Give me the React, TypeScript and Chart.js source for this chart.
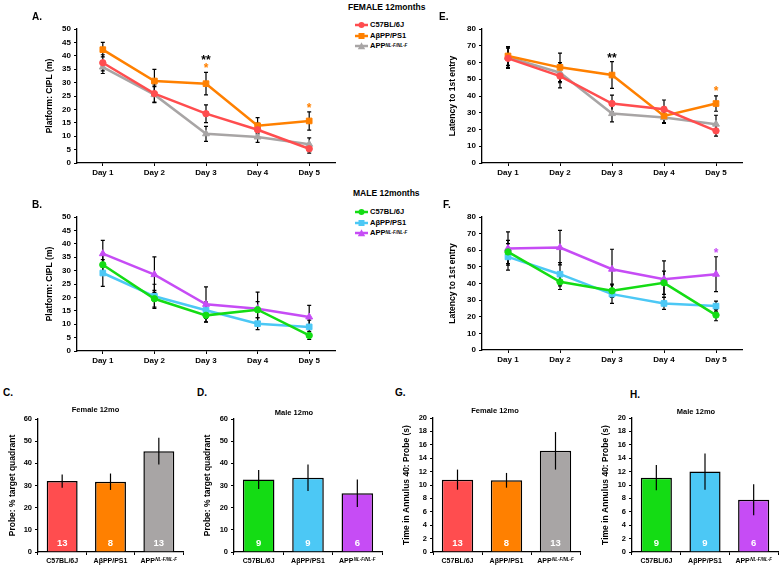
import React, { useEffect, useRef } from 'react';
import { Chart, registerables } from 'chart.js';

Chart.register(...registerables);

const FONT = '"Liberation Sans", Arial, Helvetica, sans-serif';

// ---------------- DATA ----------------
const days = ['Day 1', 'Day 2', 'Day 3', 'Day 4', 'Day 5'];
const genotypes = ['C57BL/6J', 'AβPP/PS1', 'APP^NL-F/NL-F'];

// A. Female CIPL
const femC57Cipl = [37.4, 25.9, 18.4, 12.4, 5.3];
const femC57CiplErr = [3.0, 3.2, 3.3, 2.5, 1.6];
const femAbppCipl = [42.3, 30.6, 29.6, 13.9, 15.7];
const femAbppCiplErr = [2.7, 4.3, 4.2, 3.0, 3.4];
const femAppCipl = [35.8, 25.5, 10.9, 9.7, 7.0];
const femAppCiplErr = [2.4, 3.0, 2.8, 2.0, 2.4];

// E. Female latency
const femC57Lat = [62.5, 51.9, 35.5, 32.1, 19.2];
const femC57LatErr = [6.0, 7.0, 5.0, 5.5, 3.2];
const femAbppLat = [63.9, 57.1, 52.5, 28.1, 35.5];
const femAbppLatErr = [5.6, 8.5, 8.0, 4.0, 4.6];
const femAppLat = [63.1, 53.9, 29.5, 27.1, 23.2];
const femAppLatErr = [6.0, 6.0, 5.0, 3.5, 5.3];

// B. Male CIPL
const maleC57Cipl = [32.2, 19.5, 13.3, 15.4, 5.8];
const maleC57CiplErr = [3.5, 3.1, 2.5, 3.0, 1.5];
const maleAbppCipl = [29.1, 20.4, 15.2, 10.2, 9.0];
const maleAbppCiplErr = [5.0, 4.5, 3.0, 2.2, 2.5];
const maleAppCipl = [36.3, 28.5, 17.4, 15.8, 12.7];
const maleAppCiplErr = [5.0, 6.6, 6.5, 6.2, 4.3];

// F. Male latency
const maleC57Lat = [59.0, 41.0, 35.6, 40.4, 21.0];
const maleC57LatErr = [7.0, 4.6, 4.0, 7.0, 3.4];
const maleAbppLat = [56.0, 45.6, 33.6, 28.0, 26.4];
const maleAbppLatErr = [8.0, 7.0, 5.5, 3.6, 3.0];
const maleAppLat = [61.0, 61.6, 48.6, 42.6, 45.6];
const maleAppLatErr = [10.0, 10.4, 12.0, 11.0, 10.5];

// Significance marks: [day index, y value, text, colour key]
const starsA = [[2, 39.6, '**', 'black'], [2, 36.4, '*', 'orange'], [4, 21.5, '*', 'orange']];
const starsE = [[2, 64.5, '**', 'black'], [4, 44.5, '*', 'orange']];
const starsB: any[] = [];
const starsF = [[4, 60.0, '*', 'purple']];

// C/D. Probe % target quadrant
const probeFem = [32.0, 31.7, 45.5];
const probeFemErr = [3.0, 3.7, 6.0];
const probeMale = [32.7, 33.5, 26.5];
const probeMaleErr = [4.3, 6.0, 6.2];
// G/H. Time in annulus 40
const annFem = [10.8, 10.7, 15.1];
const annFemErr = [1.5, 1.1, 2.8];
const annMale = [11.1, 12.0, 7.8];
const annMaleErr = [1.9, 2.7, 2.3];
// group sizes
const nFem = [13, 8, 13];
const nMale = [9, 9, 6];

// ---------------- STYLE ----------------
const COLORS: Record<string, string> = {
  black: '#000000',
  red: '#ff4d4f',
  orange: '#ff8000',
  gray: '#a8a5a5',
  green: '#14dc14',
  blue: '#4cc8f5',
  purple: '#c64cf5',
};

type Shape = 'circle' | 'rect' | 'triangle';
type DS = { label: string; data: number[]; err: number[]; color: string; shape: Shape };

function makeErrPlugin(errors: number[][], front: boolean, cap: number) {
  const draw = (chart: any) => {
    const ys = chart.scales.y;
    const ctx = chart.ctx;
    ctx.save();
    ctx.strokeStyle = '#000';
    ctx.lineWidth = 1.2;
    chart.data.datasets.forEach((ds: any, i: number) => {
      const e = errors[i];
      if (!e) return;
      const meta = chart.getDatasetMeta(i);
      meta.data.forEach((el: any, j: number) => {
        const v = ds.data[j];
        const x = el.x;
        const yt = ys.getPixelForValue(v + e[j]);
        const yb = ys.getPixelForValue(Math.max(0, v - e[j]));
        ctx.beginPath();
        ctx.moveTo(x, yt);
        ctx.lineTo(x, yb);
        if (cap > 0) {
          ctx.moveTo(x - cap, yt);
          ctx.lineTo(x + cap, yt);
          ctx.moveTo(x - cap, yb);
          ctx.lineTo(x + cap, yb);
        }
        ctx.stroke();
      });
    });
    ctx.restore();
  };
  return {
    id: 'errBars',
    beforeDatasetsDraw(chart: any) { if (!front) draw(chart); },
    afterDatasetsDraw(chart: any) { if (front) draw(chart); },
  };
}

function makeStarsPlugin(stars: any[]) {
  return {
    id: 'stars',
    afterDatasetsDraw(chart: any) {
      const xs = chart.scales.x;
      const ys = chart.scales.y;
      const ctx = chart.ctx;
      ctx.save();
      ctx.font = `bold 12px ${FONT}`;
      ctx.textAlign = 'center';
      ctx.textBaseline = 'alphabetic';
      stars.forEach(([i, v, t, c]) => {
        ctx.fillStyle = COLORS[c];
        ctx.fillText(t, xs.getPixelForValue(i), ys.getPixelForValue(v) + 0.57 * 12);
      });
      ctx.restore();
    },
  };
}

function makeNPlugin(ns: number[]) {
  return {
    id: 'nLabels',
    afterDatasetsDraw(chart: any) {
      const ys = chart.scales.y;
      const ctx = chart.ctx;
      const meta = chart.getDatasetMeta(0);
      ctx.save();
      ctx.font = `bold 9.5px ${FONT}`;
      ctx.fillStyle = '#ffffff';
      ctx.textAlign = 'center';
      ctx.textBaseline = 'middle';
      meta.data.forEach((el: any, j: number) => {
        ctx.fillText(String(ns[j]), el.x, ys.getPixelForValue(0) - 9);
      });
      ctx.restore();
    },
  };
}

const xLabelPlugin = {
  id: 'xLabels',
  afterDraw(chart: any) {
    const xs = chart.scales.x;
    const ctx = chart.ctx;
    const yc = xs.top + 9;
    ctx.save();
    ctx.fillStyle = '#000';
    ctx.textBaseline = 'middle';
    ctx.textAlign = 'left';
    (chart.data.labels as string[]).forEach((lab, i) => {
      const x = xs.getPixelForValue(i);
      const [base, sup] = lab.split('^');
      ctx.font = `bold 7px ${FONT}`;
      const wb = ctx.measureText(base).width;
      let ws = 0;
      if (sup) {
        ctx.font = `italic bold 4.5px ${FONT}`;
        ws = ctx.measureText(sup).width + 0.4;
      }
      const x0 = x - (wb + ws) / 2;
      ctx.font = `bold 7px ${FONT}`;
      ctx.fillText(base, x0, yc);
      if (sup) {
        ctx.font = `italic bold 4.5px ${FONT}`;
        ctx.fillText(sup, x0 + wb + 0.4, yc - 1.6);
      }
    });
    ctx.restore();
  },
};

function tickFont(size: number) {
  return { family: FONT, size, weight: 'bold' as const };
}

function lineConfig(ds: DS[], yMax: number, yStep: number, yTitle: string, stars: any[], yW: number, titlePad: number) {
  return {
    type: 'line',
    data: {
      labels: days,
      datasets: ds.map((d) => ({
        label: d.label,
        data: d.data,
        borderColor: d.color,
        backgroundColor: d.color,
        borderWidth: 2.5,
        pointStyle: d.shape,
        pointRadius: d.shape === 'circle' ? 3.2 : 4,
        pointBorderWidth: 1,
        pointBorderColor: d.color,
        pointBackgroundColor: d.color,
        tension: 0,
        fill: false,
      })),
    },
    options: {
      animation: false,
      responsive: false,
      events: [],
      layout: { padding: { top: 10, right: 5, bottom: 0, left: 0 } },
      plugins: { legend: { display: false }, tooltip: { enabled: false }, title: { display: false } },
      scales: {
        x: {
          type: 'category',
          offset: true,
          grid: { drawOnChartArea: false, offset: false, tickLength: 3, color: '#000', lineWidth: 1 },
          border: { color: '#000', width: 1.3 },
          ticks: { color: '#000', font: tickFont(8), padding: 2, maxRotation: 0, autoSkip: false },
          afterFit: (s: any) => { s.height = 20; },
        },
        y: {
          min: 0,
          max: yMax,
          ticks: { stepSize: yStep, color: '#000', font: tickFont(8), padding: 3 },
          grid: { drawOnChartArea: false, tickLength: 3, color: '#000', lineWidth: 1 },
          border: { color: '#000', width: 1.3 },
          title: {
            display: true,
            text: yTitle,
            color: '#000',
            font: { family: FONT, size: 8.5, weight: 'bold' },
            padding: { top: titlePad, bottom: 0 },
          },
          afterFit: (s: any) => { s.width = yW; },
        },
      },
    },
    plugins: [makeErrPlugin(ds.map((d) => d.err), false, 2), makeStarsPlugin(stars)],
  };
}

function barConfig(values: number[], err: number[], ns: number[], colors: string[], yMax: number, yStep: number, yTitle: string, yW: number, titlePad: number) {
  return {
    type: 'bar',
    data: {
      labels: genotypes,
      datasets: [{
        data: values,
        backgroundColor: colors,
        borderColor: '#000',
        borderWidth: 1.5,
        barPercentage: 0.64,
        categoryPercentage: 1,
      }],
    },
    options: {
      animation: false,
      responsive: false,
      events: [],
      layout: { padding: { top: 10, right: 2, bottom: 0, left: 0 } },
      plugins: { legend: { display: false }, tooltip: { enabled: false }, title: { display: false } },
      scales: {
        x: {
          type: 'category',
          grid: { drawOnChartArea: false, offset: true, tickLength: 3, color: '#000', lineWidth: 1 },
          border: { color: '#000', width: 1.3 },
          ticks: { color: '#000', font: tickFont(7), padding: 2, maxRotation: 0, autoSkip: false, callback: () => '' },
          afterFit: (s: any) => { s.height = 15; },
        },
        y: {
          min: 0,
          max: yMax,
          ticks: { stepSize: yStep, color: '#000', font: tickFont(7.5), padding: 3 },
          grid: { drawOnChartArea: false, tickLength: 3, color: '#000', lineWidth: 1 },
          border: { color: '#000', width: 1.3 },
          title: {
            display: true,
            text: yTitle,
            color: '#000',
            font: { family: FONT, size: 8.5, weight: 'bold' },
            padding: { top: titlePad, bottom: 0 },
          },
          afterFit: (s: any) => { s.width = yW; },
        },
      },
    },
    plugins: [makeErrPlugin([err], true, 0), makeNPlugin(ns), xLabelPlugin],
  };
}

function ChartBox({ left, top, width, height, make }: { left: number; top: number; width: number; height: number; make: () => any }) {
  const ref = useRef<HTMLCanvasElement>(null);
  useEffect(() => {
    const chart = new Chart(ref.current as HTMLCanvasElement, make());
    return () => chart.destroy();
  }, []);
  return (
    <canvas
      ref={ref}
      width={width}
      height={height}
      style={{ position: 'absolute', left, top, width, height }}
    />
  );
}

function T({ x, y, size, children, center }: { x: number; y: number; size: number; children: any; center?: boolean }) {
  return (
    <div
      style={{
        position: 'absolute',
        left: x,
        top: y - size * 0.5,
        fontSize: size,
        lineHeight: `${size}px`,
        fontWeight: 'bold',
        fontFamily: FONT,
        whiteSpace: 'nowrap',
        color: '#000',
        transform: center ? 'translateX(-50%)' : undefined,
      }}
    >
      {children}
    </div>
  );
}

function LegendRow({ y, color, shape, label }: { y: number; color: string; shape: Shape; label: string }) {
  const [base, sup] = label.split('^');
  return (
    <div style={{ position: 'absolute', left: 355, top: y - 4, height: 8 }}>
      <svg width={13} height={8} style={{ position: 'absolute', left: 0, top: 0 }}>
        <line x1={0} y1={4} x2={13} y2={4} stroke={color} strokeWidth={2.5} />
        {shape === 'circle' && <circle cx={6.5} cy={4} r={3} fill={color} />}
        {shape === 'rect' && <rect x={3.5} y={1} width={6} height={6} fill={color} />}
        {shape === 'triangle' && <polygon points="6.5,0.3 10.2,7.2 2.8,7.2" fill={color} />}
      </svg>
      <div
        style={{
          position: 'absolute',
          left: 15,
          top: 4 - 3.75,
          fontSize: 7.5,
          lineHeight: '7.5px',
          fontWeight: 'bold',
          fontFamily: FONT,
          whiteSpace: 'nowrap',
        }}
      >
        {base}
        {sup && (
          <span style={{ fontSize: 4.5, fontStyle: 'italic', verticalAlign: 'top', position: 'relative', top: 0 }}>{sup}</span>
        )}
      </div>
    </div>
  );
}

const femSets = (a: number[], ae: number[], b: number[], be: number[], c: number[], ce: number[]): DS[] => [
  { label: genotypes[0], data: a, err: ae, color: COLORS.red, shape: 'circle' },
  { label: genotypes[1], data: b, err: be, color: COLORS.orange, shape: 'rect' },
  { label: genotypes[2], data: c, err: ce, color: COLORS.gray, shape: 'triangle' },
];
const maleSets = (a: number[], ae: number[], b: number[], be: number[], c: number[], ce: number[]): DS[] => [
  { label: genotypes[0], data: a, err: ae, color: COLORS.green, shape: 'circle' },
  { label: genotypes[1], data: b, err: be, color: COLORS.blue, shape: 'rect' },
  { label: genotypes[2], data: c, err: ce, color: COLORS.purple, shape: 'triangle' },
];

export default function App() {
  const femBar = [COLORS.red, COLORS.orange, COLORS.gray];
  const maleBar = [COLORS.green, COLORS.blue, COLORS.purple];
  return (
    <div style={{ position: 'fixed', left: 0, top: 0, width: 780, height: 567, background: '#fff', overflow: 'hidden' }}>
      {/* Line charts */}
      <ChartBox left={42} top={19} width={298} height={164}
        make={() => lineConfig(femSets(femC57Cipl, femC57CiplErr, femAbppCipl, femAbppCiplErr, femAppCipl, femAppCiplErr), 50, 5, 'Platform: CIPL (m)', starsA, 35, 3)} />
      <ChartBox left={444} top={19} width={303} height={164}
        make={() => lineConfig(femSets(femC57Lat, femC57LatErr, femAbppLat, femAbppLatErr, femAppLat, femAppLatErr), 80, 10, 'Latency to 1st entry', starsE, 38, 4)} />
      <ChartBox left={42} top={207} width={298} height={164}
        make={() => lineConfig(maleSets(maleC57Cipl, maleC57CiplErr, maleAbppCipl, maleAbppCiplErr, maleAppCipl, maleAppCiplErr), 50, 5, 'Platform: CIPL (m)', starsB, 35, 3)} />
      <ChartBox left={444} top={207} width={303} height={163}
        make={() => lineConfig(maleSets(maleC57Lat, maleC57LatErr, maleAbppLat, maleAbppLatErr, maleAppLat, maleAppLatErr), 80, 10, 'Latency to 1st entry', starsF, 38, 4)} />

      {/* Bar charts */}
      <ChartBox left={8} top={409} width={177} height={158}
        make={() => barConfig(probeFem, probeFemErr, nFem, femBar, 60, 10, 'Probe: % target quadrant', 30, 0)} />
      <ChartBox left={202} top={409} width={182} height={158}
        make={() => barConfig(probeMale, probeMaleErr, nMale, maleBar, 60, 10, 'Probe: % target quadrant', 32, 0.9)} />
      <ChartBox left={401} top={408} width={181} height={159}
        make={() => barConfig(annFem, annFemErr, nFem, femBar, 20, 2, 'Time in Annulus 40: Probe (s)', 32, 0.9)} />
      <ChartBox left={600} top={408} width={180} height={159}
        make={() => barConfig(annMale, annMaleErr, nMale, maleBar, 20, 2, 'Time in Annulus 40: Probe (s)', 32, 0.9)} />

      {/* Section titles and legends */}
      <T x={348} y={7} size={8.5}>FEMALE 12months</T>
      <LegendRow y={25} color={COLORS.red} shape="circle" label={genotypes[0]} />
      <LegendRow y={35.5} color={COLORS.orange} shape="rect" label={genotypes[1]} />
      <LegendRow y={46} color={COLORS.gray} shape="triangle" label={genotypes[2]} />

      <T x={353} y={193} size={8.5}>MALE 12months</T>
      <LegendRow y={212} color={COLORS.green} shape="circle" label={genotypes[0]} />
      <LegendRow y={222.5} color={COLORS.blue} shape="rect" label={genotypes[1]} />
      <LegendRow y={233} color={COLORS.purple} shape="triangle" label={genotypes[2]} />

      {/* Panel letters */}
      <T x={32} y={17} size={10}>A.</T>
      <T x={439} y={17} size={10}>E.</T>
      <T x={32} y={205} size={10}>B.</T>
      <T x={443} y={205} size={10}>F.</T>
      <T x={3} y={393} size={10}>C.</T>
      <T x={197} y={393} size={10}>D.</T>
      <T x={395} y={393} size={10}>G.</T>
      <T x={630} y={395} size={10}>H.</T>

      {/* Bar chart titles */}
      <T x={95.5} y={410} size={7.5} center>Female 12mo</T>
      <T x={294} y={413} size={7.5} center>Male 12mo</T>
      <T x={495} y={411} size={7.5} center>Female 12mo</T>
      <T x={696} y={412} size={7.5} center>Male 12mo</T>
    </div>
  );
}
